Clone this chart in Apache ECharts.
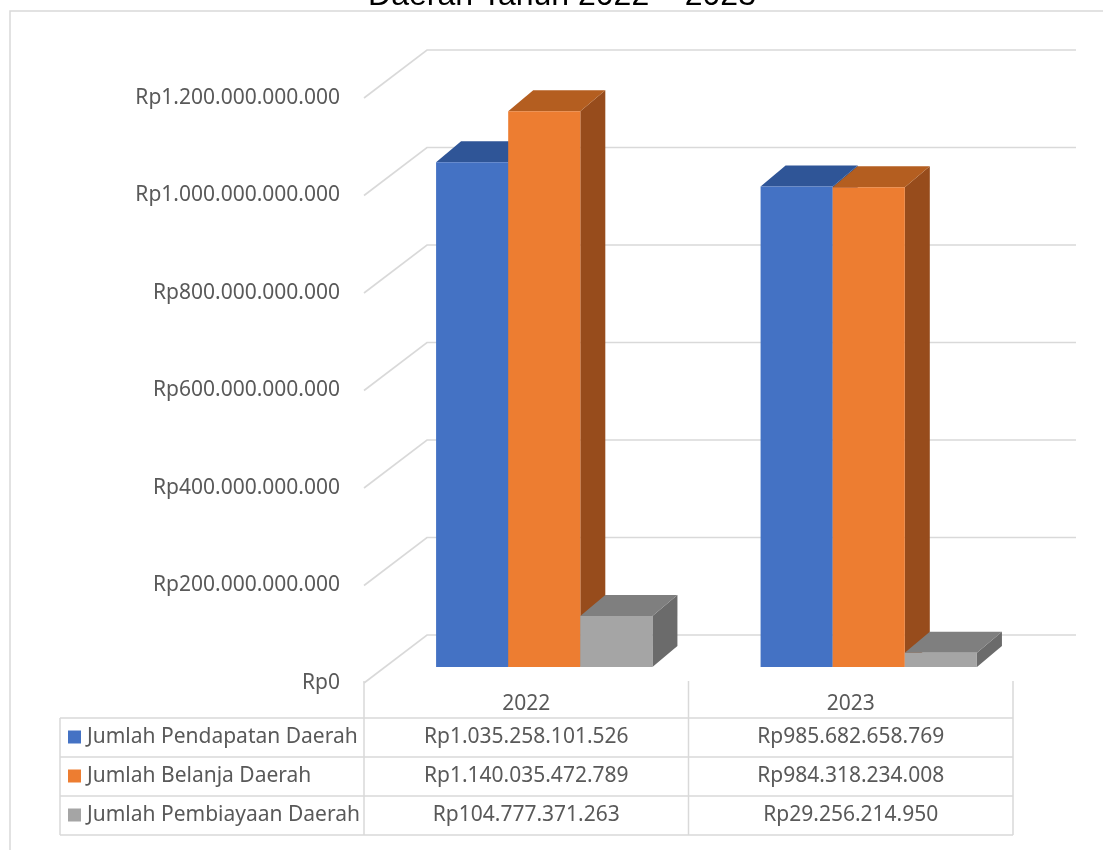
<!DOCTYPE html>
<html>
<head>
<meta charset="utf-8">
<title>Pendapatan, Belanja dan Pembiayaan Daerah Tahun 2022 – 2023</title>
<script src="https://cdn.jsdelivr.net/npm/echarts@6/dist/echarts.min.js"></script>
<style>
  html, body { margin: 0; padding: 0; background: #fff; }
  #main { width: 1103px; height: 850px; }
</style>
</head>
<body>
<div id="main"></div>
<script>
// data
var years = ['2022', '2023'];
var seriesNames = ['Jumlah Pendapatan Daerah', 'Jumlah Belanja Daerah', 'Jumlah Pembiayaan Daerah'];
var pendapatan = [1035258101526, 985682658769];
var belanja = [1140035472789, 984318234008];
var pembiayaan = [104777371263, 29256214950];
var yTicks = [0, 200000000000, 400000000000, 600000000000, 800000000000, 1000000000000, 1200000000000];
var titleText = 'Daerah Tahun 2022 – 2023';

// look
var FONT = 'Noto Sans';
var FONT_SIZE = 21;
var TEXT = '#595959';
var LINE = '#d9d9d9';
var faceColors = [
  { front: '#4472C4', top: '#2F5597', side: '#2B4C84' },
  { front: '#ED7D31', top: '#B45E20', side: '#974C1C' },
  { front: '#A5A5A5', top: '#7F7F7F', side: '#6B6B6B' }
];
var GRID_LEFT = 364, GRID_RIGHT = 90, GRID_TOP = 98, GRID_BOTTOM = 167;
var WALL_DX = 63, WALL_DY = -48;      // depth of the whole box
var FRONT_DX = 18, FRONT_DY = -16;    // bars start a third of the way in
var BAR_DX = 25, BAR_DY = -21;        // bar depth
var GROUP = 2 / 3;                    // share of the category used by bars

function rupiah(n) {
  return 'Rp' + String(n).replace(/\B(?=(\d{3})+(?!\d))/g, '.');
}

var allSeries = [pendapatan, belanja, pembiayaan];

var myChart = echarts.init(document.getElementById('main'));

// back wall + left wall lines
function wallItem(params, api) {
  var y = api.coord([0, api.value(1)])[1];
  var cs = params.coordSys;
  return {
    type: 'polyline',
    shape: { points: [[cs.x, y], [cs.x + WALL_DX, y + WALL_DY], [cs.x + cs.width + WALL_DX, y + WALL_DY]] },
    style: { stroke: LINE, lineWidth: 1.6, fill: null }
  };
}

function barItem(s) {
  return function (params, api) {
    var i = api.value(0), v = api.value(1);
    var base = api.coord([i, 0]);
    var top = api.coord([i, v]);
    var band = api.size([1, 0])[0];
    var w = band * GROUP / 3;
    var x0 = base[0] - band * GROUP / 2 + s * w + FRONT_DX;
    var x1 = x0 + w;
    var y0 = base[1] + FRONT_DY;
    var y1 = top[1] + FRONT_DY;
    var c = faceColors[s];
    return {
      type: 'group',
      children: [
        { type: 'polygon', shape: { points: [[x1, y1], [x1 + BAR_DX, y1 + BAR_DY], [x1 + BAR_DX, y0 + BAR_DY], [x1, y0]] }, style: { fill: c.side } },
        { type: 'polygon', shape: { points: [[x0, y1], [x0 + BAR_DX, y1 + BAR_DY], [x1 + BAR_DX, y1 + BAR_DY], [x1, y1]] }, style: { fill: c.top } },
        { type: 'rect', shape: { x: x0, y: y1, width: w, height: y0 - y1 }, style: { fill: c.front } }
      ]
    };
  };
}

// data table under the plot
var tableTop = 718, rowH = 39, tableLeft = 60;
var colX = [GRID_LEFT, GRID_LEFT + (1103 - GRID_LEFT - GRID_RIGHT) / 2, 1103 - GRID_RIGHT];
var tableBottom = tableTop + rowH * seriesNames.length;
var cellFont = FONT_SIZE + 'px "' + FONT + '"';
var graphics = [
  // chart frame
  { type: 'rect', shape: { x: 10, y: 11, width: 1200, height: 1000 }, style: { fill: '#fff', stroke: LINE, lineWidth: 1.5 }, z: -10 },
  // cut-off title
  { type: 'text', x: 562, y: 12, style: { text: titleText, font: '32px "Liberation Sans", Arial', fill: '#000', align: 'center', verticalAlign: 'bottom' } }
];
colX.forEach(function (x) {
  graphics.push({ type: 'line', shape: { x1: x, y1: 850 - GRID_BOTTOM - 2, x2: x, y2: tableBottom }, style: { stroke: LINE, lineWidth: 1.5 } });
});
graphics.push({ type: 'line', shape: { x1: tableLeft, y1: tableTop, x2: tableLeft, y2: tableBottom }, style: { stroke: LINE, lineWidth: 1.5 } });
for (var r = 0; r <= seriesNames.length; r++) {
  graphics.push({ type: 'line', shape: { x1: tableLeft, y1: tableTop + r * rowH, x2: colX[2], y2: tableTop + r * rowH }, style: { stroke: LINE, lineWidth: 1.5 } });
}
seriesNames.forEach(function (name, s) {
  var yMid = tableTop + s * rowH + rowH / 2;
  graphics.push({ type: 'rect', shape: { x: 68, y: yMid - 7, width: 13, height: 13 }, style: { fill: faceColors[s].front } });
  graphics.push({ type: 'text', x: 87, y: yMid, style: { text: name, font: cellFont, fill: TEXT, align: 'left', verticalAlign: 'middle' } });
  allSeries[s].forEach(function (v, i) {
    graphics.push({ type: 'text', x: (colX[i] + colX[i + 1]) / 2, y: yMid, style: { text: rupiah(v), font: cellFont, fill: TEXT, align: 'center', verticalAlign: 'middle' } });
  });
});

var series = [{
  type: 'custom',
  renderItem: wallItem,
  data: yTicks.map(function (v) { return [0, v]; }),
  z: 1,
  silent: true
}];
allSeries.forEach(function (vals, s) {
  series.push({
    name: seriesNames[s],
    type: 'custom',
    renderItem: barItem(s),
    data: vals.map(function (v, i) { return [i, v]; }),
    z: 2
  });
});

var option = {
  backgroundColor: '#fff',
  animation: false,
  grid: { left: GRID_LEFT, right: GRID_RIGHT, top: GRID_TOP, bottom: GRID_BOTTOM },
  xAxis: {
    type: 'category',
    data: years,
    axisLine: { show: false },
    axisTick: { show: false },
    axisLabel: { color: TEXT, fontFamily: FONT, fontSize: FONT_SIZE, margin: 11 }
  },
  yAxis: {
    type: 'value',
    min: 0,
    max: 1200000000000,
    interval: 200000000000,
    axisLine: { show: false },
    axisTick: { show: false },
    splitLine: { show: false },
    axisLabel: {
      color: TEXT, fontFamily: FONT, fontSize: FONT_SIZE, margin: 24,
      formatter: function (v) { return rupiah(v); }
    }
  },
  graphic: graphics,
  series: series
};
myChart.setOption(option);
</script>
</body>
</html>
